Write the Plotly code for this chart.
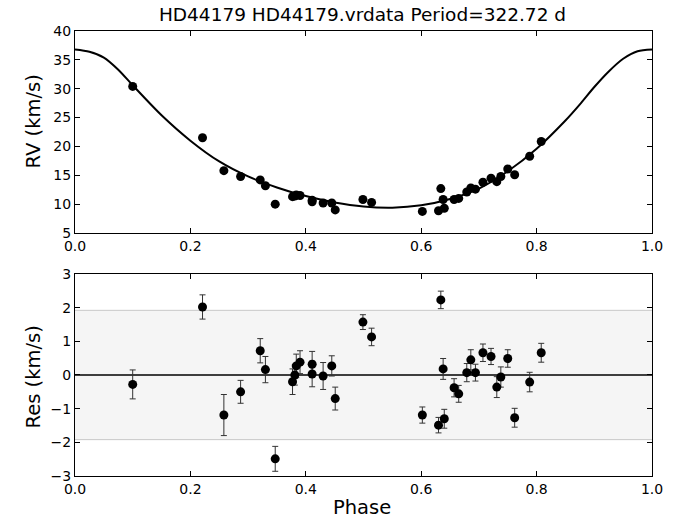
import plotly.graph_objects as go
from plotly.subplots import make_subplots

title_text = "HD44179 HD44179.vrdata Period=322.72 d"

# Observations (phase, RV, residual, error)
phase = [0.100, 0.221, 0.258, 0.287, 0.321, 0.330, 0.347, 0.377, 0.381, 0.3835,
         0.390, 0.411, 0.411, 0.430, 0.445, 0.451, 0.499, 0.514, 0.602, 0.630,
         0.634, 0.638, 0.640, 0.657, 0.665, 0.679, 0.686, 0.694, 0.707, 0.721,
         0.731, 0.738, 0.750, 0.762, 0.788, 0.808]
rv = [30.4, 21.5, 15.8, 14.8, 14.2, 13.2, 10.0, 11.3, 11.4, 11.6,
      11.5, 10.7, 10.4, 10.2, 10.2, 9.0, 10.8, 10.3, 8.74, 8.86,
      12.7, 10.8, 9.3, 10.8, 11.0, 12.1, 12.8, 12.6, 13.8, 14.5,
      13.9, 14.8, 16.1, 15.1, 18.3, 20.85]
res = [-0.28, 2.02, -1.19, -0.50, 0.72, 0.16, -2.49, -0.20, 0.00, 0.27,
       0.38, 0.32, 0.03, -0.03, 0.27, -0.70, 1.57, 1.13, -1.19, -1.49,
       2.23, 0.18, -1.30, -0.38, -0.56, 0.07, 0.45, 0.07, 0.66, 0.55,
       -0.36, -0.06, 0.49, -1.27, -0.21, 0.66]
res_err = [0.43, 0.36, 0.61, 0.34, 0.36, 0.39, 0.37, 0.38, 0.30, 0.35,
           0.34, 0.38, 0.38, 0.40, 0.30, 0.34, 0.22, 0.26, 0.24, 0.23,
           0.26, 0.31, 0.28, 0.27, 0.25, 0.27, 0.30, 0.25, 0.26, 0.24,
           0.31, 0.30, 0.26, 0.28, 0.29, 0.28]

# Model curve
model_phase = [0.0, 0.025, 0.05, 0.075, 0.1, 0.15, 0.2, 0.25, 0.3, 0.35, 0.4, 0.45, 0.5,
               0.55, 0.6, 0.65, 0.7, 0.75, 0.8, 0.85, 0.875, 0.9, 0.925, 0.95, 0.975, 1.0]
model_rv = [36.8, 36.4, 35.4, 33.3, 30.6, 25.4, 21.0, 17.4, 14.8, 12.9, 11.4, 10.3, 9.6,
            9.4, 9.8, 10.9, 12.7, 15.7, 19.6, 24.5, 27.3, 30.3, 33.0, 35.2, 36.5, 36.8]

band = 1.92

yticks_top = [5, 10, 15, 20, 25, 30, 35, 40]
yticks_bot = [-3, -2, -1, 0, 1, 2, 3]
xticks = [0.0, 0.2, 0.4, 0.6, 0.8, 1.0]
xtick_text = ["0.0", "0.2", "0.4", "0.6", "0.8", "1.0"]

fig = make_subplots(rows=2, cols=1, vertical_spacing=0.092)

fig.add_trace(go.Scatter(x=model_phase, y=model_rv, mode="lines",
                         line=dict(color="black", width=2, shape="spline", smoothing=0.8),
                         showlegend=False, hoverinfo="skip"), row=1, col=1)
fig.add_trace(go.Scatter(x=phase, y=rv, mode="markers",
                         marker=dict(color="black", size=9),
                         showlegend=False), row=1, col=1)

fig.add_shape(type="rect", x0=0, x1=1, y0=-band, y1=band, xref="x2", yref="y2",
              fillcolor="#f5f5f5", line=dict(width=0), layer="below")
for yv in (band, -band):
    fig.add_shape(type="line", x0=0, x1=1, y0=yv, y1=yv, xref="x2", yref="y2",
                  line=dict(color="#c8c8c8", width=1), layer="below")
fig.add_shape(type="line", x0=0, x1=1, y0=0, y1=0, xref="x2", yref="y2",
              line=dict(color="black", width=1.3), layer="below")

fig.add_trace(go.Scatter(x=phase, y=res, mode="markers",
                         marker=dict(color="black", size=9),
                         error_y=dict(type="data", array=res_err, color="#333333",
                                      thickness=1, width=3),
                         showlegend=False), row=2, col=1)

font_fam = "DejaVu Sans"
axis_common = dict(showline=True, linecolor="black", linewidth=1, mirror="ticks",
                   ticks="inside", ticklen=5, tickcolor="black", showgrid=False,
                   zeroline=False, tickfont=dict(family=font_fam, size=14, color="black"))

fig.update_xaxes(range=[0, 1], tickvals=xticks, ticktext=xtick_text, **axis_common)
fig.update_yaxes(**axis_common)
fig.update_yaxes(range=[5, 40], tickvals=yticks_top, ticktext=[str(v) for v in yticks_top],
                 row=1, col=1)
fig.update_yaxes(range=[-3, 3], tickvals=yticks_bot,
                 ticktext=[str(v).replace("-", "\u2212") for v in yticks_bot],
                 row=2, col=1)

label_font = dict(family=font_fam, size=19.5, color="black")
# y labels as annotations in pixel-derived paper coordinates
fig.add_annotation(text="RV (km/s)", textangle=-90, xref="paper", yref="paper",
                   x=(32.5 - 75) / 577, y=(476 - 122) / 445, showarrow=False,
                   xanchor="center", yanchor="middle", font=label_font)
fig.add_annotation(text="Res (km/s)", textangle=-90, xref="paper", yref="paper",
                   x=(32.5 - 75) / 577, y=(476 - 377) / 445, showarrow=False,
                   xanchor="center", yanchor="middle", font=label_font)
fig.add_annotation(text="Phase", xref="paper", yref="paper",
                   x=(362 - 75) / 577, y=(476 - 508) / 445, showarrow=False,
                   xanchor="center", yanchor="middle", font=label_font)

fig.update_layout(
    width=676, height=521,
    margin=dict(l=75, r=24, t=31, b=45),
    paper_bgcolor="white", plot_bgcolor="white",
    title=dict(text=title_text, xref="paper", x=(362.5 - 75) / 577, xanchor="center",
               yref="container", y=1 - 14.5 / 521, yanchor="middle",
               font=dict(family=font_fam, size=18.5, color="black")),
    font=dict(family=font_fam, color="black"),
)

fig.write_html("out.html")
